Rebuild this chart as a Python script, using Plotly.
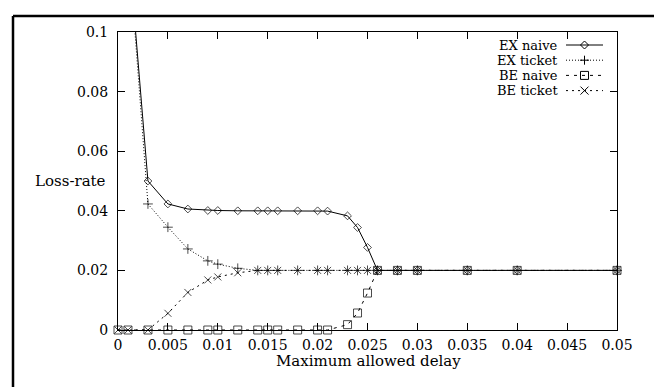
import plotly.graph_objects as go

# ---- data ----
delay = [0, 0.001, 0.003, 0.005, 0.007, 0.009, 0.010, 0.012, 0.014, 0.015, 0.016,
         0.018, 0.020, 0.021, 0.023, 0.024, 0.025, 0.026, 0.028, 0.030, 0.035, 0.040, 0.050]
ex_naive = [0.20, 0.131, 0.050, 0.0423, 0.0406, 0.0401, 0.0401, 0.0400, 0.0400, 0.0400, 0.0400,
            0.0400, 0.0400, 0.0399, 0.0383, 0.0344, 0.0277, 0.020, 0.020, 0.020, 0.020, 0.020, 0.020]
ex_ticket = [0.20, 0.131, 0.0423, 0.0345, 0.0272, 0.0232, 0.0221, 0.0207, 0.020, 0.020, 0.020,
             0.020, 0.020, 0.020, 0.020, 0.020, 0.020, 0.020, 0.020, 0.020, 0.020, 0.020, 0.020]
be_naive = [0, 0, 0, 0, 0, 0, 0, 0, 0, 0, 0,
            0, 0, 0, 0.0018, 0.0057, 0.0124, 0.020, 0.020, 0.020, 0.020, 0.020, 0.020]
be_ticket = [0, 0, 0, 0.0056, 0.0126, 0.0168, 0.0178, 0.0192, 0.020, 0.020, 0.020,
             0.020, 0.020, 0.020, 0.020, 0.020, 0.020, 0.020, 0.020, 0.020, 0.020, 0.020, 0.020]

series_names = ["EX naive", "EX ticket", "BE naive", "BE ticket"]
x_tickvals = [0, 0.005, 0.01, 0.015, 0.02, 0.025, 0.03, 0.035, 0.04, 0.045, 0.05]
x_ticktext = ["0", "0.005", "0.01", "0.015", "0.02", "0.025", "0.03", "0.035", "0.04", "0.045", "0.05"]
y_tickvals = [0, 0.02, 0.04, 0.06, 0.08, 0.1]
y_ticktext = ["0", "0.02", "0.04", "0.06", "0.08", "0.1"]
x_title = "Maximum allowed delay"
y_title = "Loss-rate"

# ---- styling ----
FONT = "DejaVu Serif"
FS = 14
W, H = 662, 387
ML, MR, MT, MB = 110, 53, 24, 65
YMAX = 0.1

styles = [
    dict(dash="solid", symbol="diamond-open", size=6),
    dict(dash="1px,2px", symbol="cross-thin-open", size=7),
    dict(dash="3px,5px", symbol="square-open", size=8),
    dict(dash="2px,4px", symbol="x-thin-open", size=7),
]
values = [ex_naive, ex_ticket, be_naive, be_ticket]

fig = go.Figure()
for name, ys, st in zip(series_names, values, styles):
    sizes = [0 if v > YMAX else st["size"] for v in ys]
    fig.add_trace(go.Scatter(
        x=delay, y=ys, name=name, mode="lines+markers",
        line=dict(color="black", width=1, dash=st["dash"]),
        marker=dict(symbol=st["symbol"], size=sizes, color="black",
                    line=dict(color="black", width=1)),
        cliponaxis=False, showlegend=False,
    ))

pw = W - ML - MR
ph = H - MT - MB


def px_x(p):
    return (p - ML) / pw


def px_y(p):
    return (H - MB - p) / ph


shapes = []
# outer frame (left and top edges visible)
shapes.append(dict(type="line", xref="paper", yref="paper", x0=px_x(5), x1=px_x(5),
                   y0=px_y(400), y1=px_y(8), line=dict(color="black", width=2.5)))
shapes.append(dict(type="line", xref="paper", yref="paper", x0=px_x(5), x1=px_x(670),
                   y0=px_y(8), y1=px_y(8), line=dict(color="black", width=2.5)))

annotations = []
leg_rows = [37, 52.2, 67.4, 82.6]
marker_paths = [
    "M-4,0L0,4L4,0L0,-4Z",
    "M-4.5,0H4.5M0,-4.5V4.5",
    "M-4,-4H4V4H-4Z",
    "M-4,-4L4,4M-4,4L4,-4",
]
for name, st, row, mp in zip(series_names, styles, leg_rows, marker_paths):
    yy = px_y(row)
    annotations.append(dict(text=name, xref="paper", yref="paper", x=px_x(552), y=yy,
                            xanchor="right", yanchor="middle", showarrow=False,
                            font=dict(family=FONT, size=13, color="black")))
    shapes.append(dict(type="line", xref="paper", yref="paper", x0=px_x(558), x1=px_x(595),
                       y0=yy, y1=yy, line=dict(color="black", width=1, dash=st["dash"])))
    shapes.append(dict(type="path", xref="paper", yref="paper", xsizemode="pixel",
                       ysizemode="pixel", xanchor=px_x(576.5), yanchor=yy, path=mp,
                       line=dict(color="black", width=1), fillcolor="rgba(0,0,0,0)"))

annotations.append(dict(text=y_title, xref="paper", yref="paper", x=px_x(100), y=px_y(173),
                        xanchor="right", yanchor="middle", showarrow=False,
                        font=dict(family=FONT, size=15, color="black")))
annotations.append(dict(text=x_title, xref="paper", yref="paper", x=px_x(360), y=px_y(353),
                        xanchor="center", yanchor="middle", showarrow=False,
                        font=dict(family=FONT, size=15, color="black")))

axis_common = dict(showline=True, linecolor="black", linewidth=1, mirror="ticks",
                   ticks="inside", ticklen=7, tickwidth=1, tickcolor="black",
                   showgrid=False, zeroline=False,
                   tickfont=dict(family=FONT, size=FS, color="black"))

fig.update_layout(
    width=W, height=H,
    margin=dict(l=ML, r=MR, t=MT, b=MB),
    paper_bgcolor="white", plot_bgcolor="white",
    xaxis=dict(range=[0, 0.05], tickmode="array", tickvals=x_tickvals, ticktext=x_ticktext,
               ticklabelstandoff=2, **axis_common),
    yaxis=dict(range=[0, YMAX], tickmode="array", tickvals=y_tickvals, ticktext=y_ticktext,
               ticklabelstandoff=6, **axis_common),
    shapes=shapes, annotations=annotations, showlegend=False,
)

fig.write_html("out.html")
